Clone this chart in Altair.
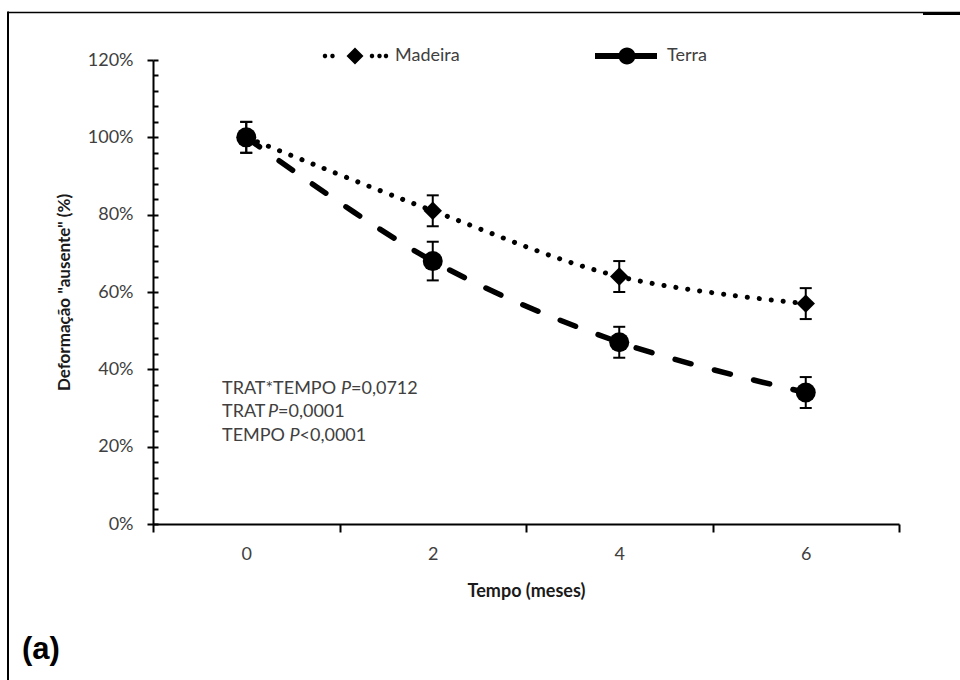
import altair as alt
import pandas as pd

# ---------------------------------------------------------------
# Data: share of "absent" deformation over time, by treatment
# ---------------------------------------------------------------
months = [0, 2, 4, 6]
series_names = ["Madeira", "Terra"]
madeira_mean = [1.00, 0.81, 0.64, 0.57]
madeira_err = [0.04, 0.04, 0.04, 0.04]
terra_mean = [1.00, 0.68, 0.47, 0.34]
terra_err = [0.04, 0.05, 0.04, 0.04]

stat_terms = ["TRAT*TEMPO", "TRAT", "TEMPO"]
stat_values = ["=0,0712", "=0,0001", "<0,0001"]

rows = []
for name, means, errs in [("Madeira", madeira_mean, madeira_err),
                          ("Terra", terra_mean, terra_err)]:
    for m, v, e in zip(months, means, errs):
        rows.append({"mes": m, "serie": name, "valor": v, "lo": v - e, "hi": v + e})
df = pd.DataFrame(rows)
one = pd.DataFrame({"k": [0]})

# ---------------------------------------------------------------
# Layout / style
# ---------------------------------------------------------------
PLOT_W, PLOT_H = 746, 464
PAD = {"left": 153, "top": 60, "right": 61, "bottom": 156}
FONT = "Lato"
GRAY = "#404040"
INK = "#1a1a1a"

x_scale = alt.Scale(domain=[-1, 7], nice=False, zero=False)
y_scale = alt.Scale(domain=[0, 1.2], nice=False, zero=True)

# category boundaries carry the tick marks ...
x_axis_ticks = alt.Axis(
    values=[-1, 1, 3, 5, 7],
    labels=False,
    tickSize=8,
    orient="bottom",
    title="Tempo (meses)",
    titleX=PLOT_W / 2,
    titleY=67,
    titleBaseline="middle",
    titleAlign="center",
)
# ... while the month labels sit between them
x_axis_labels = alt.Axis(
    values=months,
    format="d",
    ticks=False,
    domain=False,
    labelPadding=21,
    labelFlush=False,
    orient="bottom",
    title=None,
)

y_axis_major = alt.Axis(
    values=[0, 0.2, 0.4, 0.6, 0.8, 1.0, 1.2],
    format=".0%",
    tickSize=6,
    labelPadding=14,
    orient="left",
    title='Deformação "ausente" (%)',
    titleFontSize=17,
    titleX=-89,
    titleY=PLOT_H / 2,
    titleAngle=-90,
    titleBaseline="middle",
    titleAlign="center",
)

# inward minor ticks: a right-oriented axis pulled back onto the left edge
y_axis_minor = alt.Axis(
    values=[round(i * 0.04, 2) for i in range(31)],
    orient="right",
    offset=-PLOT_W,
    tickSize=5,
    labels=False,
    domain=False,
    title=None,
)


def X(axis=None):
    return alt.X("mes:Q", scale=x_scale, axis=axis)


def Y(field="valor", axis=None):
    return alt.Y(f"{field}:Q", scale=y_scale, axis=axis)


base = alt.Chart(df)

madeira_line = base.transform_filter(alt.datum.serie == "Madeira").mark_line(
    interpolate="catmull-rom", color="black", strokeWidth=5,
    strokeDash=[0.1, 11.9], strokeCap="round",
).encode(x=X(x_axis_ticks), y=Y(axis=y_axis_major))

terra_line = base.transform_filter(alt.datum.serie == "Terra").mark_line(
    interpolate="catmull-rom", color="black", strokeWidth=5.5,
    strokeDash=[16.5, 24], strokeCap="round",
).encode(x=X(x_axis_labels), y=Y(axis=y_axis_minor))

err_rules = base.mark_rule(color="black", strokeWidth=2).encode(
    x=X(), y=Y("lo"), y2="hi:Q"
)
cap_lo = base.mark_tick(color="black", orient="horizontal", size=12, thickness=2,
                        opacity=1).encode(x=X(), y=Y("lo"))
cap_hi = base.mark_tick(color="black", orient="horizontal", size=12, thickness=2,
                        opacity=1).encode(x=X(), y=Y("hi"))

madeira_pts = base.transform_filter(alt.datum.serie == "Madeira").mark_point(
    shape="diamond", size=340, filled=True, color="black", opacity=1
).encode(x=X(), y=Y())

terra_pts = base.transform_filter(alt.datum.serie == "Terra").mark_point(
    shape="circle", size=400, filled=True, color="black", opacity=1
).encode(x=X(), y=Y())


# ---- legend glyphs: line-with-marker symbols as custom SVG paths ----
R = 32.0  # half-width of the legend symbol, px


def u(px):
    return f"{px / R:.4f}"


def circ(cx, r):
    return (f"M{u(cx - r)},0A{u(r)},{u(r)} 0 1,1 {u(cx + r)},0"
            f"A{u(r)},{u(r)} 0 1,1 {u(cx - r)},0Z")


def bar(x0, x1, h):
    return f"M{u(x0)},{u(-h)}L{u(x1)},{u(-h)}L{u(x1)},{u(h)}L{u(x0)},{u(h)}Z"


def diamond(d):
    return f"M{u(-d)},0L0,{u(-d)}L{u(d)},0L0,{u(d)}Z"


madeira_glyph = "".join([circ(x, 2.2) for x in (-30, -22.5, 17, 24.5, 31)] + [diamond(8.5)])
terra_glyph = bar(-32, -6, 3.1) + circ(0, 8.5) + bar(6, 30, 3.1)

legend_layer = base.transform_filter("false").mark_point(
    filled=True, color="black", opacity=1
).encode(
    x=X(), y=Y(),
    shape=alt.Shape(
        "serie:N",
        scale=alt.Scale(domain=series_names, range=[madeira_glyph, terra_glyph]),
        legend=alt.Legend(
            orient="none", legendX=170, legendY=-4 - R, direction="horizontal",
            title=None, symbolSize=(2 * R) ** 2, symbolFillColor="black",
            symbolStrokeWidth=0, symbolOpacity=1, labelOffset=8,
            columnPadding=135, padding=0, labelFont=FONT, labelFontSize=18,
            labelColor=GRAY, labelBaseline="middle",
        ),
    ),
)

# ---- statistics annotation (term, italic P, value) ----
stat_y = [329, 352, 376]
p_dx = [119, 46, 67.5]
texts = []
for term, val, yy, pd_x in zip(stat_terms, stat_values, stat_y, p_dx):
    common = dict(font=FONT, fontSize=18, color=GRAY, baseline="middle", align="left")
    texts.append(alt.Chart(one).mark_text(text=term, **common).encode(
        x=alt.value(69), y=alt.value(yy)))
    texts.append(alt.Chart(one).mark_text(text="P", fontStyle="italic", **common).encode(
        x=alt.value(69 + pd_x), y=alt.value(yy)))
    texts.append(alt.Chart(one).mark_text(text=val, **common).encode(
        x=alt.value(69 + pd_x + 10), y=alt.value(yy)))

panel_tag = alt.Chart(one).mark_text(
    text="(a)", font="Liberation Sans", fontWeight="bold", fontSize=31,
    color="black", align="left", baseline="alphabetic",
).encode(x=alt.value(-131), y=alt.value(599))

# ---- outer frame lines ----
frame_top = alt.Chart(one).mark_rule(color="black", strokeWidth=1.6).encode(
    x=alt.value(-145), x2=alt.value(807), y=alt.value(-47.5))
frame_top_right = alt.Chart(one).mark_rule(color="black", strokeWidth=3).encode(
    x=alt.value(770), x2=alt.value(807), y=alt.value(-46.5))
frame_left = alt.Chart(one).mark_rule(color="black", strokeWidth=2).encode(
    x=alt.value(-145), y=alt.value(-48.5), y2=alt.value(620))

chart = alt.layer(
    madeira_line, terra_line, frame_top, frame_top_right, frame_left,
    err_rules, cap_lo, cap_hi, madeira_pts, terra_pts, legend_layer,
    *texts, panel_tag,
).resolve_axis(x="independent", y="independent").properties(
    width=PLOT_W, height=PLOT_H,
    autosize=alt.AutoSizeParams(type="none"),
    padding=PAD,
    background="white",
).configure_view(stroke=None).configure_axis(
    grid=False,
    domainColor="black", domainWidth=2,
    tickColor="black", tickWidth=2,
    labelFont=FONT, labelFontSize=18, labelColor=GRAY,
    titleFont=FONT, titleFontSize=18, titleFontWeight="bold", titleColor=INK,
)

chart.save("out.html", embed_options={"renderer": "svg", "actions": False})
